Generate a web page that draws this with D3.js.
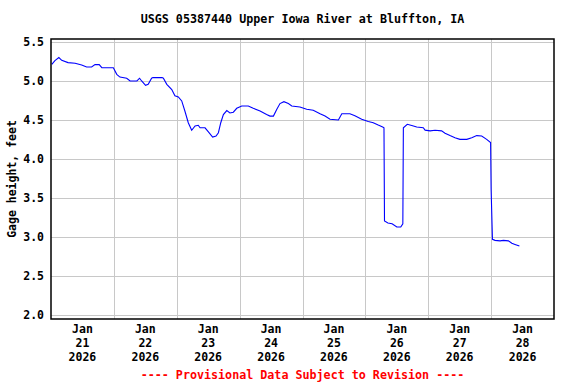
<!DOCTYPE html>
<html>
<head>
<meta charset="utf-8">
<script src="https://cdn.jsdelivr.net/npm/d3@7"></script>
<style>
  body { margin: 0; background: #fff; }
  text { font-family: "DejaVu Sans Mono", "Liberation Mono", monospace; font-weight: bold; }
</style>
</head>
<body>
<script>
// hours since 2026-01-21 00:00 (local), gage height in feet
const hours = [0.3, 1.5, 3.0, 4.1, 6.5, 9.2, 11.7, 13.6, 15.5, 16.8, 18.4, 19.4, 23.8,
  25.1, 26.3, 28.9, 30.2, 32.8, 33.8, 34.6, 36.1, 37.1, 38.4, 38.9, 42.4, 42.9, 44.2,
  46.1, 47.3, 48.6, 49.9, 51.1, 52.4, 53.7, 55.0, 56.2, 56.9, 58.8, 60.0, 61.7, 63.0,
  63.9, 64.8, 65.8, 67.1, 68.3, 69.6, 70.9, 72.8, 75.3, 77.2, 79.8, 82.3, 83.6, 84.9,
  86.2, 87.4, 88.9, 90.6, 91.9, 95.0, 97.6, 100.1, 102.7, 104.6, 106.5, 109.7, 111.0,
  114.1, 116.0, 118.6, 121.1, 123.0, 124.9, 126.6, 127.1, 127.3, 128.6, 130.2, 132.0,
  133.5, 134.3, 134.5, 136.0, 137.7, 139.6, 142.1, 142.8, 144.7, 146.6, 149.1, 150.4,
  152.3, 154.2, 156.1, 158.7, 160.6, 162.5, 164.4, 166.3, 167.8, 168.0, 168.5, 169.5,
  171.4, 172.7, 174.6, 175.9, 177.1, 178.8];
const gageHeight = [5.214, 5.26, 5.30, 5.265, 5.235, 5.227, 5.205, 5.18, 5.18, 5.21, 5.21, 5.17, 5.17,
  5.085, 5.05, 5.035, 5.0, 5.0, 5.035, 5.0, 4.945, 4.957, 5.035, 5.043, 5.043, 5.035, 4.957,
  4.89, 4.81, 4.795, 4.744, 4.615, 4.465, 4.368, 4.423, 4.432, 4.40, 4.40, 4.35, 4.28, 4.295,
  4.337, 4.465, 4.57, 4.62, 4.59, 4.60, 4.65, 4.68, 4.68, 4.65, 4.615, 4.57, 4.55, 4.55,
  4.637, 4.71, 4.735, 4.71, 4.68, 4.667, 4.637, 4.625, 4.58, 4.55, 4.51, 4.50, 4.58,
  4.58, 4.555, 4.51, 4.48, 4.465, 4.435, 4.41, 4.40, 3.205, 3.18, 3.17, 3.128,
  3.128, 3.17, 4.40, 4.445, 4.43, 4.41, 4.40, 4.37, 4.36, 4.368, 4.36, 4.33,
  4.30, 4.273, 4.252, 4.252, 4.273, 4.30, 4.295, 4.252, 4.21, 3.61, 2.97, 2.957,
  2.95, 2.957, 2.95, 2.92, 2.905, 2.885];

const dayTicks = ["Jan|21|2026", "Jan|22|2026", "Jan|23|2026", "Jan|24|2026",
  "Jan|25|2026", "Jan|26|2026", "Jan|27|2026", "Jan|28|2026"];
const yTicks = [2.0, 2.5, 3.0, 3.5, 4.0, 4.5, 5.0, 5.5];

const start = new Date(2026, 0, 21);
const end = new Date(2026, 0, 29);
const data = hours.map((h, i) => ({ t: new Date(start.getTime() + h * 3600e3), v: gageHeight[i] }));

const plotLeft = 51, plotRight = 554, plotTop = 39, plotBottom = 319;

const svg = d3.select('body').append('svg')
  .attr('width', 576)
  .attr('height', 384);

const x = d3.scaleTime().domain([start, end]).range([plotLeft, plotRight]);
const y = d3.scaleLinear().domain([1.949, 5.538]).range([plotBottom, plotTop]);

// grid
const midnights = d3.timeDay.range(d3.timeDay.offset(start, 1), end);
svg.append('g')
  .selectAll('line')
  .data(midnights)
  .enter().append('line')
  .attr('x1', d => Math.round(x(d)) + 0.5)
  .attr('x2', d => Math.round(x(d)) + 0.5)
  .attr('y1', plotTop)
  .attr('y2', plotBottom)
  .attr('stroke', '#c8c8c8');

svg.append('g')
  .selectAll('line')
  .data(yTicks)
  .enter().append('line')
  .attr('x1', plotLeft)
  .attr('x2', plotRight)
  .attr('y1', d => Math.round(y(d)) + 0.5)
  .attr('y2', d => Math.round(y(d)) + 0.5)
  .attr('stroke', '#c8c8c8');

// y axis labels
svg.append('g')
  .selectAll('text')
  .data(yTicks)
  .enter().append('text')
  .attr('x', 44)
  .attr('y', d => y(d) + 4)
  .attr('text-anchor', 'end')
  .attr('font-size', '11.5px')
  .text(d => d.toFixed(1));

// x axis labels, centred at noon
const noons = dayTicks.map((s, i) => d3.timeHour.offset(d3.timeDay.offset(start, i), 12));
const xl = svg.append('g')
  .selectAll('text')
  .data(dayTicks)
  .enter().append('text')
  .attr('text-anchor', 'middle')
  .attr('font-size', '11.5px');
xl.each(function (d, i) {
  const parts = d.split('|');
  parts.forEach((p, j) => {
    d3.select(this).append('tspan')
      .attr('x', x(noons[i]))
      .attr('y', 333 + j * 14)
      .text(p);
  });
});

// line
const line = d3.line().x(d => x(d.t)).y(d => y(d.v));
svg.append('path')
  .datum(data)
  .attr('fill', 'none')
  .attr('stroke', '#0000ff')
  .attr('stroke-width', 1.1)
  .attr('d', line);

// frame
svg.append('rect')
  .attr('x', plotLeft)
  .attr('y', plotTop)
  .attr('width', plotRight - plotLeft)
  .attr('height', plotBottom - plotTop)
  .attr('fill', 'none')
  .attr('stroke', '#000')
  .attr('stroke-width', 1.5);

// title and labels
svg.append('text')
  .attr('x', (plotLeft + plotRight) / 2)
  .attr('y', 23)
  .attr('text-anchor', 'middle')
  .attr('font-size', '11.7px')
  .text('USGS 05387440 Upper Iowa River at Bluffton, IA');

svg.append('text')
  .attr('transform', 'translate(16,' + ((plotTop + plotBottom) / 2) + ') rotate(-90)')
  .attr('text-anchor', 'middle')
  .attr('font-size', '11.5px')
  .text('Gage height, feet');

svg.append('text')
  .attr('x', (plotLeft + plotRight) / 2)
  .attr('y', 379)
  .attr('text-anchor', 'middle')
  .attr('font-size', '11.7px')
  .attr('fill', '#ff0000')
  .text('---- Provisional Data Subject to Revision ----');
</script>
</body>
</html>
